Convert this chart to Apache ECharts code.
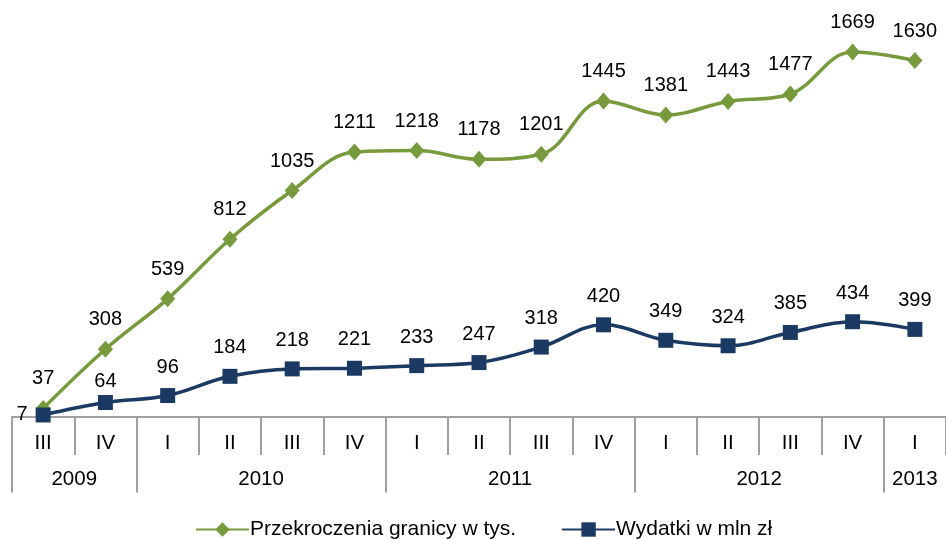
<!DOCTYPE html>
<html>
<head>
<meta charset="utf-8">
<script src="https://cdn.jsdelivr.net/npm/echarts@6/dist/echarts.min.js"></script>
<style>
  html, body { margin: 0; padding: 0; background: #fff; }
  #chart { width: 946px; height: 539px; }
</style>
</head>
<body>
<div id="chart"></div>
<script>
// dane z wykresu
var quarters = ['III', 'IV', 'I', 'II', 'III', 'IV', 'I', 'II', 'III', 'IV', 'I', 'II', 'III', 'IV', 'I'];
var years = ['2009', '2010', '2011', '2012', '2013'];
var yearSpans = [2, 4, 4, 4, 1];
var przekroczenia = [37, 308, 539, 812, 1035, 1211, 1218, 1178, 1201, 1445, 1381, 1443, 1477, 1669, 1630];
var wydatki = [7, 64, 96, 184, 218, 221, 233, 247, 318, 420, 349, 324, 385, 434, 399];

var GREEN = '#779a3c';
var BLUE = '#1b3a63';
var GRAY = '#a0a0a0';

// os lat: 31 punktow co pol kwartalu (boundaryGap false)
var yearSlots = [];
var yearTicks = {};
var pos = 0;
for (var i = 0; i <= quarters.length * 2; i++) yearSlots.push('');
years.forEach(function (y, k) {
  yearTicks[pos * 2] = true;
  yearSlots[pos * 2 + yearSpans[k]] = y;
  pos += yearSpans[k];
});

var blueData = wydatki.map(function (v, i) {
  if (i === 0) return { value: v, label: { position: 'left', distance: 8 } };
  if (i === 1) return { value: v, label: { distance: 4 } };
  return v;
});

var chart = echarts.init(document.getElementById('chart'));
chart.setOption({
  animation: false,
  backgroundColor: '#fff',
  textStyle: { fontFamily: 'Liberation Sans, Arial, sans-serif' },
  grid: { left: 12, top: 23.5, width: 935, bottom: 122.5 },
  legend: {
    left: 190,
    top: 514,
    itemWidth: 53,
    itemHeight: 18,
    itemGap: 45,
    textStyle: { fontSize: 21, color: '#000', padding: [0, 0, 0, -4] },
    data: ['Przekroczenia granicy w tys.', 'Wydatki w mln zł']
  },
  xAxis: [
    {
      type: 'category',
      data: quarters,
      position: 'bottom',
      boundaryGap: true,
      axisLine: { lineStyle: { color: GRAY, width: 2 } },
      axisTick: { show: true, interval: 0, length: 38.5, lineStyle: { color: GRAY, width: 2 } },
      axisLabel: { interval: 0, margin: 16.5, fontSize: 20.5, color: '#000' },
      splitLine: { show: false }
    },
    {
      type: 'category',
      data: yearSlots,
      position: 'bottom',
      boundaryGap: false,
      axisLine: { show: false },
      axisTick: {
        show: true,
        length: 76,
        interval: function (idx) { return !!yearTicks[idx]; },
        lineStyle: { color: GRAY, width: 2 }
      },
      axisLabel: {
        interval: function (idx, val) { return val !== ''; },
        margin: 52.5,
        fontSize: 20.5,
        color: '#000'
      },
      splitLine: { show: false }
    }
  ],
  yAxis: { type: 'value', show: false, min: 0, max: 1800, splitLine: { show: false } },
  series: [
    {
      name: 'Przekroczenia granicy w tys.',
      type: 'line',
      data: przekroczenia,
      smooth: 0.38,
      symbol: 'diamond',
      symbolSize: [15, 17],
      lineStyle: { color: GREEN, width: 3.5 },
      itemStyle: { color: GREEN },
      label: { show: true, position: 'top', distance: 11, fontSize: 20, color: '#000' },
      z: 2
    },
    {
      name: 'Wydatki w mln zł',
      type: 'line',
      data: blueData,
      smooth: 0.38,
      symbol: 'rect',
      symbolSize: 15,
      lineStyle: { color: BLUE, width: 3.5 },
      itemStyle: { color: BLUE },
      label: { show: true, position: 'top', distance: 11, fontSize: 20, color: '#000' },
      z: 3
    }
  ]
});
</script>
</body>
</html>
